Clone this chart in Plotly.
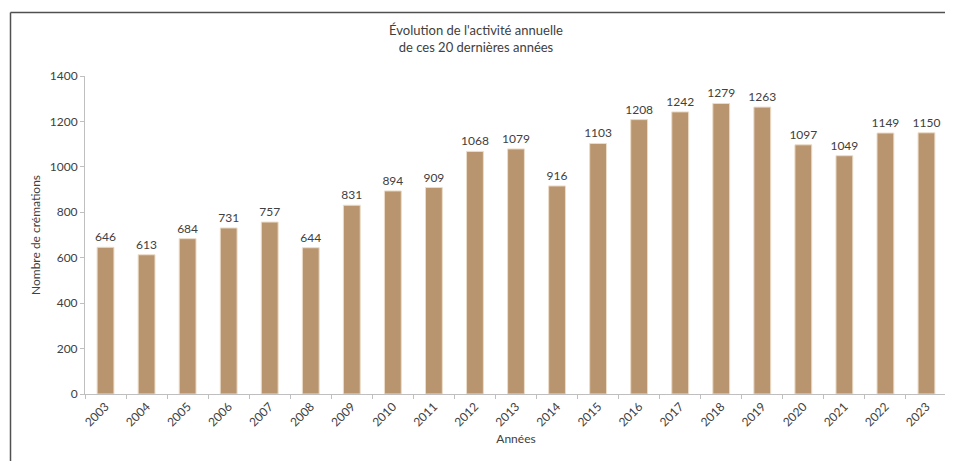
import plotly.graph_objects as go

years = ["2003", "2004", "2005", "2006", "2007", "2008", "2009", "2010", "2011", "2012",
         "2013", "2014", "2015", "2016", "2017", "2018", "2019", "2020", "2021", "2022", "2023"]
cremations = [646, 613, 684, 731, 757, 644, 831, 894, 909, 1068,
              1079, 916, 1103, 1208, 1242, 1279, 1263, 1097, 1049, 1149, 1150]
y_ticks = [0, 200, 400, 600, 800, 1000, 1200, 1400]

# page body has an 8px margin, so the figure is drawn 8px smaller and offset
OFF = 8
W, H = 953 - OFF, 461 - OFF
ML, MR, MT, MB = 85 - OFF, 6, 76 - OFF, 67
pw = W - ML - MR
ph = H - MT - MB

FONT = "Lato, 'Noto Sans', sans-serif"
TXT = "#404040"

fig = go.Figure()
fig.add_trace(go.Bar(
    x=years, y=cremations,
    marker=dict(color="#b8956f", line=dict(color="#ecdcc8", width=1)),
    text=[str(v) for v in cremations], textposition="outside",
    constraintext="none",
    textfont=dict(family=FONT, size=12, color=TXT),
    cliponaxis=False,
))

bx = (10.5 - OFF - ML) / pw
by = (H - MB - (12.5 - OFF)) / ph
bx1 = (W - 1 - ML) / pw
fig.update_layout(
    width=W, height=H,
    margin=dict(l=ML, r=MR, t=MT, b=MB),
    paper_bgcolor="white", plot_bgcolor="white",
    bargap=0.59, showlegend=False,
    title=dict(text="Évolution de l'activité annuelle<br>de ces 20 dernières années",
               x=(476 - OFF) / W, xanchor="center", y=1 - 27 / H, yanchor="top",
               font=dict(family=FONT, size=13, color=TXT)),
    font=dict(family=FONT, color=TXT),
    shapes=[
        dict(type="line", xref="paper", yref="paper", x0=bx, x1=bx1, y0=by, y1=by,
             line=dict(color="#505050", width=1.5), layer="below"),
        dict(type="line", xref="paper", yref="paper", x0=bx, x1=bx, y0=by, y1=-0.3,
             line=dict(color="#505050", width=1.5), layer="below"),
    ],
)
fig.update_xaxes(
    type="category", showline=True, linecolor="#bfbfbf", linewidth=1,
    ticks="outside", tickson="boundaries", ticklen=4, tickcolor="#bfbfbf",
    tickangle=-45, tickfont=dict(family=FONT, size=12, color=TXT),
    title=dict(text="Années", font=dict(family=FONT, size=12, color=TXT), standoff=6),
    showgrid=False,
)
fig.update_yaxes(
    range=[0, 1400], tickvals=y_ticks, showline=True, linecolor="#bfbfbf", linewidth=1,
    ticks="outside", ticklen=4, tickcolor="#bfbfbf", showgrid=False, zeroline=False,
    tickfont=dict(family=FONT, size=12, color=TXT),
    title=dict(text="Nombre de crémations", font=dict(family=FONT, size=12, color=TXT), standoff=6),
)

fig.write_html("out.html", config={"displayModeBar": False})
